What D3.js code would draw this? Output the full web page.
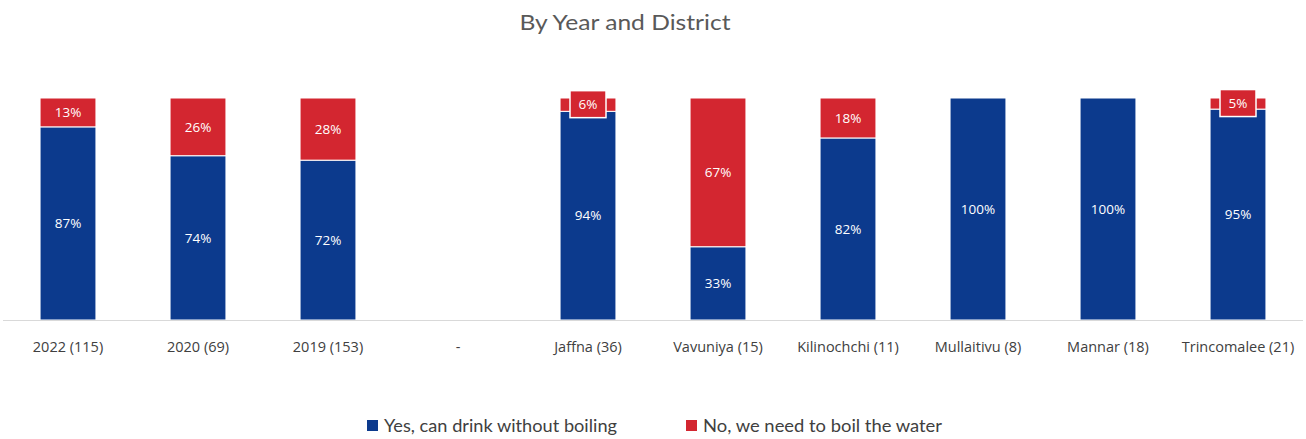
<!DOCTYPE html>
<html>
<head>
<meta charset="utf-8">
<title>By Year and District</title>
<script src="https://cdn.jsdelivr.net/npm/d3@7"></script>
<style>
body { margin: 0; background: #fff; }
svg { display: block; }
.tick text { font-family: 'Open Sans', Lato, sans-serif; }
</style>
</head>
<body>
<svg id="chart" width="1306" height="439"></svg>
<script>
// data
var categories = ["2022 (115)", "2020 (69)", "2019 (153)", "-", "Jaffna (36)", "Vavuniya (15)",
  "Kilinochchi (11)", "Mullaitivu (8)", "Mannar (18)", "Trincomalee (21)"];
var yesValues = [87, 74, 72, null, 94, 33, 82, 100, 100, 95];
var noValues = [13, 26, 28, null, 6, 67, 18, 0, 0, 5];
var seriesNames = ["Yes, can drink without boiling", "No, we need to boil the water"];
var colors = ["#0c3a8d", "#d32630"];

var width = 1306, height = 439;
var svg = d3.select("#chart");

var x = d3.scaleBand().domain(categories).range([3, 1303])
  .paddingInner(0.57).paddingOuter(0.285);
var y = d3.scaleLinear().domain([0, 100]).range([320, 98]);

// title
svg.append("text")
  .attr("x", 625).attr("y", 30)
  .attr("text-anchor", "middle")
  .attr("textLength", 211).attr("lengthAdjust", "spacingAndGlyphs")
  .style("font-family", "Lato, 'Open Sans', sans-serif")
  .style("font-size", "22px")
  .style("fill", "#595959")
  .text("By Year and District");

// stack
var rows = categories.map(function(c, i) {
  return {cat: c, yes: yesValues[i] || 0, no: noValues[i] || 0};
});
var stack = d3.stack().keys(["yes", "no"])(rows);

var layers = svg.selectAll("g.layer").data(stack).enter().append("g")
  .attr("class", "layer")
  .attr("fill", function(d, i) { return colors[i]; });

layers.selectAll("rect").data(function(d) { return d; }).enter()
  .filter(function(d) { return d[1] - d[0] > 0; })
  .append("rect")
  .attr("x", function(d) { return x(d.data.cat); })
  .attr("width", x.bandwidth())
  .attr("y", function(d) { return y(d[1]); })
  .attr("height", function(d) { return y(d[0]) - y(d[1]); })
  .attr("stroke", "#fff")
  .attr("stroke-width", 1);

// labels
var labels = [];
stack.forEach(function(layer, li) {
  layer.forEach(function(d) {
    var v = d[1] - d[0];
    if (v > 0) labels.push({cat: d.data.cat, v: v, mid: (d[0] + d[1]) / 2, li: li});
  });
});

var lab = svg.selectAll("g.lab").data(labels).enter().append("g")
  .attr("class", "lab")
  .attr("transform", function(d) {
    return "translate(" + (x(d.cat) + x.bandwidth() / 2) + "," + y(d.mid) + ")";
  });

// small segments get a box behind the label
lab.filter(function(d) { return d.v < 10; }).append("rect")
  .attr("x", -18).attr("y", -14).attr("width", 36).attr("height", 27)
  .attr("fill", function(d) { return colors[d.li]; })
  .attr("stroke", "#fff").attr("stroke-width", 1.5);

lab.append("text")
  .attr("text-anchor", "middle")
  .attr("dy", "0.35em")
  .style("font-family", "'Open Sans', Lato, sans-serif")
  .style("font-size", "13.5px")
  .style("fill", "#fff")
  .text(function(d) { return d.v + "%"; });

// x axis
var xAxis = svg.append("g")
  .attr("transform", "translate(0,320)")
  .call(d3.axisBottom(x).tickSize(0).tickPadding(22));
xAxis.select(".domain").attr("stroke", "#d9d9d9").attr("d", "M3,0.5H1303");
xAxis.selectAll(".tick text")
  .style("font-size", "14.5px")
  .style("fill", "#404040");

// legend
var legend = svg.append("g").attr("transform", "translate(0,426)");
var legX = [367, 686];
var legLen = [233, 239];
seriesNames.forEach(function(name, i) {
  legend.append("rect")
    .attr("x", legX[i]).attr("y", -6).attr("width", 11).attr("height", 11)
    .attr("fill", colors[i]);
  legend.append("text")
    .attr("x", legX[i] + 17).attr("y", 0).attr("dy", "0.35em")
    .attr("textLength", legLen[i]).attr("lengthAdjust", "spacingAndGlyphs")
    .style("font-family", "Lato, 'Open Sans', sans-serif")
    .style("font-size", "17px")
    .style("fill", "#404040")
    .text(name);
});
</script>
</body>
</html>
